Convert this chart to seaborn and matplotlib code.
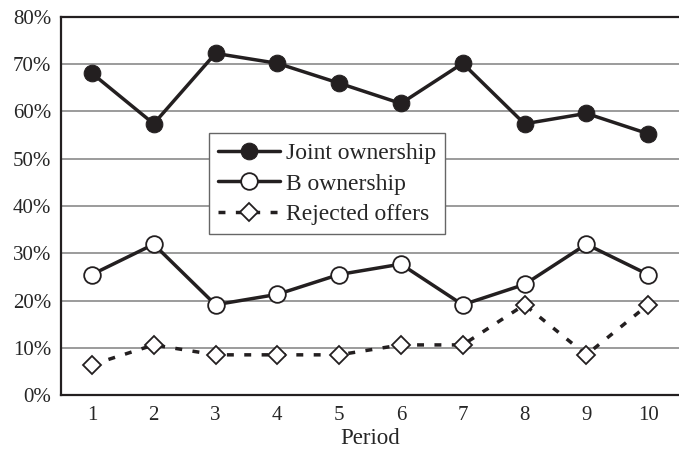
import numpy as np
import pandas as pd
import matplotlib
matplotlib.use("Agg")
import matplotlib.pyplot as plt
import seaborn as sns

# shares of 47 pairs
periods = [1, 2, 3, 4, 5, 6, 7, 8, 9, 10]
joint = [68.1, 57.4, 72.3, 70.2, 66.0, 61.7, 70.2, 57.4, 59.6, 55.3]
b_own = [25.5, 31.9, 19.1, 21.3, 25.5, 27.7, 19.1, 23.4, 31.9, 25.5]
rejected = [6.4, 10.6, 8.5, 8.5, 8.5, 10.6, 10.6, 19.1, 8.5, 19.1]
y_ticks = [0, 10, 20, 30, 40, 50, 60, 70, 80]

sns.set_style("white")
plt.rcParams['font.family'] = ['Liberation Serif', 'DejaVu Serif']
plt.rcParams['font.size'] = 15

data = pd.DataFrame({'Period': periods, 'Joint': joint, 'B': b_own, 'Rej': rejected})

fig = plt.figure(figsize=(6.79, 4.5), dpi=100)
ax = fig.add_axes([61/679, 1 - 395/450, 1 - 61/679, (395 - 17)/450])

sns.lineplot(data=data, x='Period', y='Joint', ax=ax, color='#231f20', lw=2.5,
             marker='o', markersize=12, markerfacecolor='#231f20',
             markeredgecolor='#231f20', label='Joint ownership', zorder=4)
sns.lineplot(data=data, x='Period', y='B', ax=ax, color='#231f20', lw=2.5,
             marker='o', markersize=12, markerfacecolor='white',
             markeredgecolor='#231f20', markeredgewidth=1.3,
             label='B ownership', zorder=4)
sns.lineplot(data=data, x='Period', y='Rej', ax=ax, color='#231f20', lw=2.5,
             linestyle=(0, (2, 3)), marker='D', markersize=9.5,
             markerfacecolor='white', markeredgecolor='#231f20',
             markeredgewidth=1.3, label='Rejected offers', zorder=4)

ax.set_xlim(0.5, 10.5)
ax.set_ylim(0, 80)
ax.set_yticks(y_ticks)
ax.set_yticklabels([f'{v}%' for v in y_ticks])
ax.set_xticks(periods)
ax.set_xticks(np.arange(0.5, 11, 1), minor=True)
ax.tick_params(axis='x', which='major', length=0, pad=8, labelsize=15)
ax.tick_params(axis='x', which='minor', length=6, width=1.2, direction='out', color='#231f20')
ax.tick_params(axis='y', length=5, width=1.2, direction='out', color='#231f20', pad=2, labelsize=15)

ax.yaxis.grid(True, color='#8a8a8a', lw=1.2)
ax.set_axisbelow(True)
for s in ['left', 'bottom', 'top']:
    ax.spines[s].set_color('#231f20')
    ax.spines[s].set_linewidth(1.6)
ax.spines['right'].set_visible(False)

ax.set_xlabel('Period', fontsize=16.5, labelpad=2)
ax.set_ylabel('')

leg = ax.legend(loc='upper left', bbox_to_anchor=(0.2395, 0.693), borderaxespad=0,
                frameon=True, fancybox=False, edgecolor='#666666', framealpha=1,
                handlelength=2.6, handletextpad=0.25, labelspacing=0.38,
                borderpad=0.4, fontsize=17)
leg.get_frame().set_linewidth(1.0)

fig.savefig('out.png', dpi=100)
